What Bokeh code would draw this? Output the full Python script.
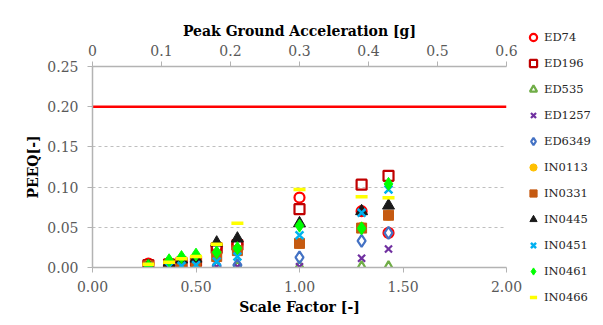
from bokeh.plotting import figure
from bokeh.models import (Range1d, LinearAxis, FixedTicker, PrintfTickFormatter,
                          CustomJSTickFormatter, Legend, LegendItem)
from bokeh.embed import file_html
from bokeh.resources import INLINE

# ---- data ----
scale_factor = [0.27, 0.37, 0.43, 0.50, 0.60, 0.70, 1.00, 1.30, 1.43]
series_names = ["ED74", "ED196", "ED535", "ED1257", "ED6349",
                "IN0113", "IN0331", "IN0445", "IN0451", "IN0461", "IN0466"]
ed74   = [0.005, 0.005, 0.0075, 0.0095, 0.026, 0.029, 0.087, 0.070, 0.043]
ed196  = [0.003, 0.004, 0.006, 0.008, 0.024, 0.028, 0.0725, 0.103, 0.114]
ed535  = [0.0, 0.0, 0.0, 0.0, 0.0, 0.0, 0.0, 0.0, 0.0]
ed1257 = [0.0, 0.0, 0.001, 0.001, 0.001, 0.001, 0.001, 0.0115, 0.023]
ed6349 = [0.0, 0.001, 0.001, 0.002, 0.002, 0.003, 0.0125, 0.033, 0.043]
in0113 = [0.003, 0.004, 0.006, 0.008, 0.016, 0.022, 0.030, 0.050, 0.065]
in0331 = [0.002, 0.003, 0.005, 0.0066, 0.0136, 0.021, 0.030, 0.049, 0.065]
in0445 = [0.002, 0.006, 0.010, 0.011, 0.031, 0.036, 0.055, 0.070, 0.077]
in0451 = [0.001, 0.001, 0.002, 0.003, 0.0074, 0.0136, 0.040, 0.068, 0.097]
in0461 = [0.002, 0.009, 0.013, 0.016, 0.019, 0.024, 0.052, 0.0487, 0.104]
in0466 = [0.004, 0.0066, 0.011, 0.0136, 0.029, 0.055, 0.097, 0.088, 0.0866]
limit_x = [0.0, 2.0]
limit_y = [0.20, 0.20]
pga_ticks = [0.0, 0.1, 0.2, 0.3, 0.4, 0.5, 0.6]
sf_ticks = [0.0, 0.5, 1.0, 1.5, 2.0]
peeq_ticks = [0.0, 0.05, 0.10, 0.15, 0.20, 0.25]

series_values = [ed74, ed196, ed535, ed1257, ed6349, in0113, in0331,
                 in0445, in0451, in0461, in0466]
styles = [
    dict(marker="circle", size=10, fill_color=None, line_color="#ff0000", line_width=2.2),
    dict(marker="square", size=10, fill_color=None, line_color="#c00000", line_width=2.2),
    dict(marker="triangle", size=11, fill_color=None, line_color="#70ad47", line_width=2.2),
    dict(marker="x", size=10, line_color="#7030a0", line_width=2.2),
    dict(marker="diamond", size=12, fill_color=None, line_color="#4472c4", line_width=2.2),
    dict(marker="circle", size=10, fill_color="#ffc000", line_color="#ffc000", line_width=1),
    dict(marker="square", size=10, fill_color="#c55a11", line_color="#c55a11", line_width=1),
    dict(marker="triangle", size=12, fill_color="#1a1a1a", line_color="#1a1a1a", line_width=1),
    dict(marker="x", size=11, line_color="#00b0f0", line_width=2.5),
    dict(marker="diamond", size=13, fill_color="#00ff00", line_color="#00ff00", line_width=1),
    dict(marker="dash", size=12, line_color="#ffff00", line_width=3.5),
]

FONT = "DejaVu Serif"

p = figure(frame_width=414, frame_height=201, output_backend="svg", toolbar_location=None,
           x_range=Range1d(0, 2), y_range=Range1d(0, 0.25),
           min_border_left=92, min_border_right=85, min_border_top=66, min_border_bottom=48)
p.outline_line_color = None
p.background_fill_color = "white"
p.border_fill_color = "white"

p.extra_x_ranges = {"pga": Range1d(0, 0.6)}

# grids
p.xgrid.visible = False
p.ygrid.ticker = FixedTicker(ticks=peeq_ticks)
p.ygrid.grid_line_color = "#bfbfbf"
p.ygrid.grid_line_dash = "3 3"
p.ygrid.grid_line_width = 1

def style_axis(ax, label):
    ax.axis_label = label
    ax.axis_label_text_font = FONT
    ax.axis_label_text_font_style = "bold"
    ax.axis_label_text_font_size = "14px"
    ax.axis_label_text_color = "#000000"
    ax.major_label_text_font = FONT
    ax.major_label_text_font_size = "14px"
    ax.major_label_text_color = "#595959"
    ax.axis_line_color = "#b3b3b3"
    ax.axis_line_width = 1.5
    ax.major_tick_line_color = "#b3b3b3"
    ax.major_tick_in = 0
    ax.major_tick_out = 5
    ax.minor_tick_line_color = None

xa = p.xaxis[0]
style_axis(xa, "Scale Factor [-]")
xa.ticker = FixedTicker(ticks=sf_ticks)
xa.formatter = PrintfTickFormatter(format="%.2f")
xa.major_label_standoff = 8
xa.axis_label_standoff = 4

ya = p.yaxis[0]
style_axis(ya, "PEEQ[-]")
ya.ticker = FixedTicker(ticks=peeq_ticks)
ya.formatter = PrintfTickFormatter(format="%.2f")
ya.major_label_standoff = 9
ya.axis_label_standoff = 3

top = LinearAxis(x_range_name="pga")
style_axis(top, "Peak Ground Acceleration [g]")
top.ticker = FixedTicker(ticks=pga_ticks)
top.formatter = CustomJSTickFormatter(code="return tick == 0 ? '0' : tick.toFixed(1);")
top.major_label_standoff = 6
top.axis_label_standoff = 3
p.add_layout(top, "above")

# limit line
p.line(limit_x, limit_y, line_color="#ff0000", line_width=2.5)

items = []
for name, vals, st in zip(series_names, series_values, styles):
    r = p.scatter(scale_factor, vals, **st)
    items.append(LegendItem(label=name, renderers=[r]))

legend = Legend(items=items, location="center_left")
legend.glyph_width = 18
legend.glyph_height = 20
legend.label_height = 20
legend.spacing = 6
legend.padding = 0
legend.margin = 18
legend.label_standoff = 2
legend.border_line_color = None
legend.background_fill_alpha = 0
legend.label_text_font = FONT
legend.label_text_font_size = "11.5px"
legend.label_text_color = "#262626"
p.add_layout(legend, "right")

open("out.html", "w").write(file_html(p, INLINE))
